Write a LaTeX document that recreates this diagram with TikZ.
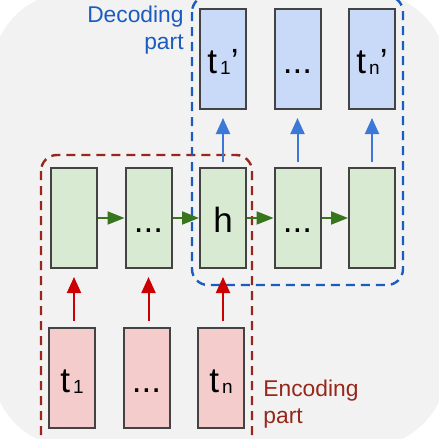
\documentclass[tikz,border=0pt]{standalone}
\usepackage{fontspec}
\setmainfont{Liberation Sans}
\usepackage{tikz}
\usetikzlibrary{arrows.meta}
\usetikzlibrary{positioning}
\definecolor{encfill}{HTML}{F4CCCC}
\definecolor{hidfill}{HTML}{D9EAD3}
\definecolor{decfill}{HTML}{C9DAF8}
\definecolor{cellline}{HTML}{434343}
\definecolor{encred}{HTML}{CC0000}
\definecolor{encdark}{HTML}{97271A}
\definecolor{hidgreen}{HTML}{38761D}
\definecolor{decblue}{HTML}{3C78D8}
\definecolor{decdark}{HTML}{1C5BC0}
\definecolor{backgrey}{HTML}{F2F2F2}
\tikzset{>={Triangle[length=8pt,width=7pt]}}
\tikzset{
    cell/.style={draw=cellline, line width=1pt, minimum width=23pt, minimum height=50pt,
        inner sep=0pt, font=\fontsize{17.5}{17.5}\selectfont, text height=14pt, text depth=0pt},
    enccell/.style={cell, fill=encfill},
    hidcell/.style={cell, fill=hidfill},
    deccell/.style={cell, fill=decfill},
    encarrow/.style={->, draw=encred, fill=encred, line width=1pt, shorten <=3pt, shorten >=4pt},
    decarrow/.style={->, draw=decblue, fill=decblue, line width=1pt, shorten <=2.5pt, shorten >=4pt},
    hidarrow/.style={-{Triangle[length=8.5pt,width=6.5pt]}, draw=hidgreen, fill=hidgreen, line width=1pt},
    partbox/.style={dash pattern=on 4.5pt off 3pt, line width=1.2pt, rounded corners=8pt},
    partlabel/.style={inner sep=0pt, font=\fontsize{11.4}{13.3}\selectfont},
}
\newcommand{\tokidx}[1]{\kern1.5pt\raisebox{-0.8pt}{\fontsize{9.5}{9.5}\selectfont #1}}

\begin{document}
\begin{tikzpicture}[x=0.5pt, y=-0.5pt]
	\useasboundingbox (0,0) rectangle (439,439);
	\clip (0,0) rectangle (439,439);
	\fill[backgrey, rounded corners=40pt] (-8,-8) rectangle (447,447);
	% dashed parts
	\draw[partbox, draw=encdark] (41,155) rectangle (252,452);
	\draw[partbox, draw=decdark] (192,-4) rectangle (403,285);
	\node[partlabel, text=decdark, align=right, anchor=north east] (declbl) at (184,6) {Decoding\\part};
	\node[partlabel, text=encdark, align=left, anchor=north west] (enclbl) at (263,380) {Encoding\\part};
	% hidden states
	\node[hidcell] (h1) at (74,218) {};
	\node[hidcell, right=13.25pt of h1] (h2) {...};
	\node[hidcell, right=13.25pt of h2] (h) {h};
	\node[hidcell, right=13.25pt of h] (h4) {...};
	\node[hidcell, right=13.25pt of h4] (h5) {};
	% input tokens
	\node[enccell, below=29pt of h1, xshift=-1pt] (enc1) {t\tokidx{1}};
	\node[enccell, below=29pt of h2, xshift=-1pt] (enc2) {...};
	\node[enccell, below=29pt of h, xshift=-1pt] (encn) {t\tokidx{n}};
	% output tokens
	\node[deccell, above=28.5pt of h] (dec1) {t\tokidx{1}'};
	\node[deccell, above=28.5pt of h4] (dec2) {...};
	\node[deccell, above=28.5pt of h5] (decn) {t\tokidx{n}'};
	\draw[encarrow] (enc1.north -| h1) -- (h1);
	\draw[encarrow] (enc2.north -| h2) -- (h2);
	\draw[encarrow] (encn.north -| h) -- (h);
	\draw[hidarrow] (h1) -- (h2);
	\draw[hidarrow] (h2) -- (h);
	\draw[hidarrow] (h) -- (h4);
	\draw[hidarrow] (h4) -- (h5);
	\draw[decarrow] (h) -- (dec1);
	\draw[decarrow] (h4) -- (dec2);
	\draw[decarrow] (h5) -- (decn);
\end{tikzpicture}
\end{document}
